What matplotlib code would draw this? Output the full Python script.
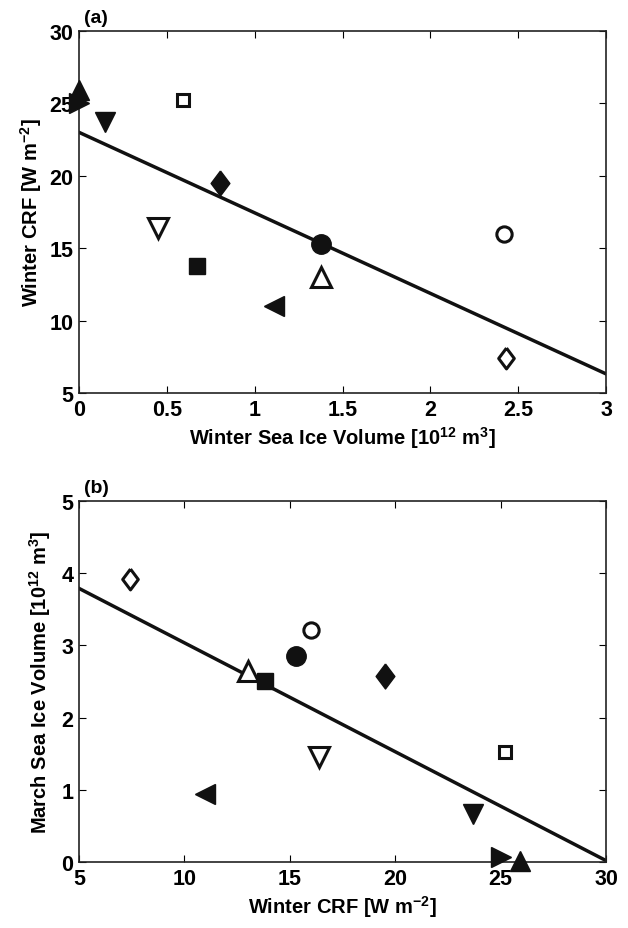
import numpy as np
import matplotlib
matplotlib.use('Agg')
import matplotlib.pyplot as plt

plt.rcParams['font.family'] = ['Liberation Sans', 'DejaVu Sans']
plt.rcParams['font.weight'] = 'bold'
plt.rcParams['mathtext.fontset'] = 'custom'
plt.rcParams['mathtext.rm'] = 'Liberation Sans:bold'
plt.rcParams['mathtext.bf'] = 'Liberation Sans:bold'
plt.rcParams['mathtext.default'] = 'rm'

# date
markere = ['^', '>', 'v', 's', 'D', 'v', 's', '<', 'o', '^', 'o', 'D']
umplut = [True, True, True, False, True, False, True, True, True, False, False, False]
volum_iarna = [0.0, 0.0, 0.15, 0.59, 0.80, 0.45, 0.67, 1.11, 1.38, 1.38, 2.42, 2.43]
crf_iarna = [25.9, 25.0, 23.7, 25.2, 19.5, 16.4, 13.8, 11.0, 15.3, 13.0, 16.0, 7.4]
volum_martie = [0.01, 0.07, 0.66, 1.52, 2.58, 1.45, 2.51, 0.94, 2.85, 2.65, 3.21, 3.92]

# dreptele de regresie
fit_a_x = [0, 3]
fit_a_y = [23.0, 6.32]
fit_b_x = [5, 30]
fit_b_y = [3.79, 0.02]

# romb ca in matlab (mai inalt decat lat)
romb = [(0, 1), (0.75, 0), (0, -1), (-0.75, 0), (0, 1)]
marimi = {'^': 15, 'v': 15, '>': 15, '<': 15, 's': 12, 'D': 18, 'o': 14}
marimi_goale = {'^': 14, 'v': 14, 's': 9, 'D': 15, 'o': 11}

fig = plt.figure(figsize=(6.28, 9.29), dpi=100)
ax1 = fig.add_axes([0.1258, 0.5759, 0.8392, 0.3897])
ax2 = fig.add_axes([0.1258, 0.0710, 0.8392, 0.3886])


def deseneaza(ax, xs, ys):
    for m, u, x, y in zip(markere, umplut, xs, ys):
        mk = romb if m == 'D' else m
        if u:
            ax.plot(x, y, marker=mk, ms=marimi[m], color='#111111', mec='#111111',
                    ls='none', clip_on=False, zorder=3)
        else:
            ax.plot(x, y, marker=mk, ms=marimi_goale[m], mfc='white', mec='#111111',
                    mew=2.2, ls='none', clip_on=False, zorder=3)


def stil(ax):
    ax.tick_params(direction='in', top=True, right=True, length=5, width=0.8,
                   labelsize=15.5, pad=4)
    for s in ax.spines.values():
        s.set_linewidth(1.2)
        s.set_color('#222222')
    for t in ax.get_xticklabels() + ax.get_yticklabels():
        t.set_fontweight('bold')


ax1.plot(fit_a_x, fit_a_y, color='#111111', lw=2.5, zorder=2)
deseneaza(ax1, volum_iarna, crf_iarna)
ax1.set_xlim(0, 3)
ax1.set_ylim(5, 30)
ax1.set_xticks(np.arange(0, 3.01, 0.5))
ax1.set_xticklabels(['0', '0.5', '1', '1.5', '2', '2.5', '3'])
ax1.set_yticks([5, 10, 15, 20, 25, 30])
ax1.set_xlabel('Winter Sea Ice Volume [10$^{12}$ m$^{3}$]', fontsize=14.5, fontweight='bold', labelpad=3)
ax1.set_ylabel('Winter CRF [W m$^{-2}$]', fontsize=14.5, fontweight='bold', labelpad=4)
ax1.text(0.01, 1.015, '(a)', transform=ax1.transAxes, fontsize=14, fontweight='bold', va='bottom')
stil(ax1)

ax2.plot(fit_b_x, fit_b_y, color='#111111', lw=2.5, zorder=2)
deseneaza(ax2, crf_iarna, volum_martie)
ax2.set_xlim(5, 30)
ax2.set_ylim(0, 5)
ax2.set_xticks([5, 10, 15, 20, 25, 30])
ax2.set_yticks([0, 1, 2, 3, 4, 5])
ax2.set_xlabel('Winter CRF [W m$^{-2}$]', fontsize=14.5, fontweight='bold', labelpad=3)
ax2.set_ylabel('March Sea Ice Volume [10$^{12}$ m$^{3}$]', fontsize=14.5, fontweight='bold', labelpad=6)
ax2.text(0.01, 1.015, '(b)', transform=ax2.transAxes, fontsize=14, fontweight='bold', va='bottom')
stil(ax2)

fig.savefig('out.png', dpi=100)
